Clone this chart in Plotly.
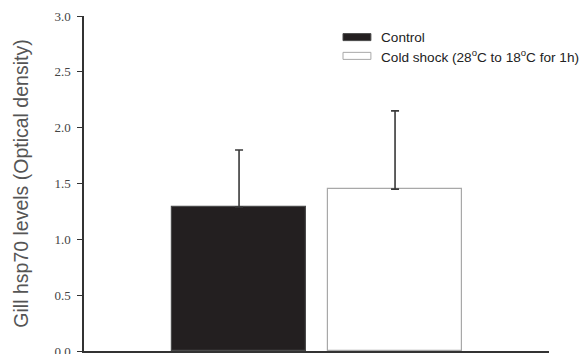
import plotly.graph_objects as go

groups = ["Control", "Cold shock (28<sup>o</sup>C to 18<sup>o</sup>C for 1h)"]
x_pos = [1, 2]
means = [1.29, 1.45]
errors = [0.51, 0.70]
fills = ["#231f20", "#ffffff"]
outlines = ["#4a4a4a", "#a8a8a8"]
y_ticks = [0.0, 0.5, 1.0, 1.5, 2.0, 2.5, 3.0]

fig = go.Figure()
for i in range(2):
    fig.add_trace(go.Bar(
        x=[x_pos[i]], y=[means[i]], width=0.86, name=groups[i],
        marker=dict(color=fills[i], line=dict(color=outlines[i], width=1.2)),
        error_y=dict(type="data", array=[errors[i]], symmetric=False,
                     arrayminus=[0], color="#3a3a3a", thickness=1.6, width=4),
        showlegend=False,
    ))

# legend drawn manually
leg_y = [0.937, 0.881]
for i in range(2):
    fig.add_shape(type="rect", xref="paper", yref="paper",
                  x0=0.557, x1=0.617, y0=leg_y[i] - 0.0105, y1=leg_y[i] + 0.0105,
                  fillcolor=fills[i], line=dict(color=outlines[i], width=1))
    fig.add_annotation(xref="paper", yref="paper", x=0.634, y=leg_y[i],
                       text=groups[i], showarrow=False, xanchor="left", yanchor="middle",
                       font=dict(family="Liberation Sans, Arial, sans-serif", size=13.6, color="#222"))

fig.update_layout(
    width=588, height=354,
    margin=dict(l=84, r=39, t=16, b=3),
    paper_bgcolor="white", plot_bgcolor="white",
    bargap=0,
    xaxis=dict(range=[0.006, 2.987], showticklabels=False, ticks="", showgrid=False,
               zeroline=False, showline=True, linecolor="#333", linewidth=2, automargin=False),
    yaxis=dict(range=[0, 3], tickvals=y_ticks, tickformat=".1f", ticks="outside",
               ticklen=5, tickwidth=1.2, tickcolor="#333", showgrid=False, zeroline=False,
               showline=True, linecolor="#333", linewidth=1.5, automargin=False,
               ticklabelstandoff=4, ticklabeloverflow="allow",
               tickfont=dict(family="Liberation Serif, Times New Roman, serif", size=13, color="#444"),
               title=dict(text="Gill hsp70 levels (Optical density)", standoff=21,
                          font=dict(family="Liberation Sans, Arial, sans-serif", size=19.5, color="#555"))),
)
fig.write_html("out.html", config={"displayModeBar": False},
               post_script="document.body.style.margin='0';")
